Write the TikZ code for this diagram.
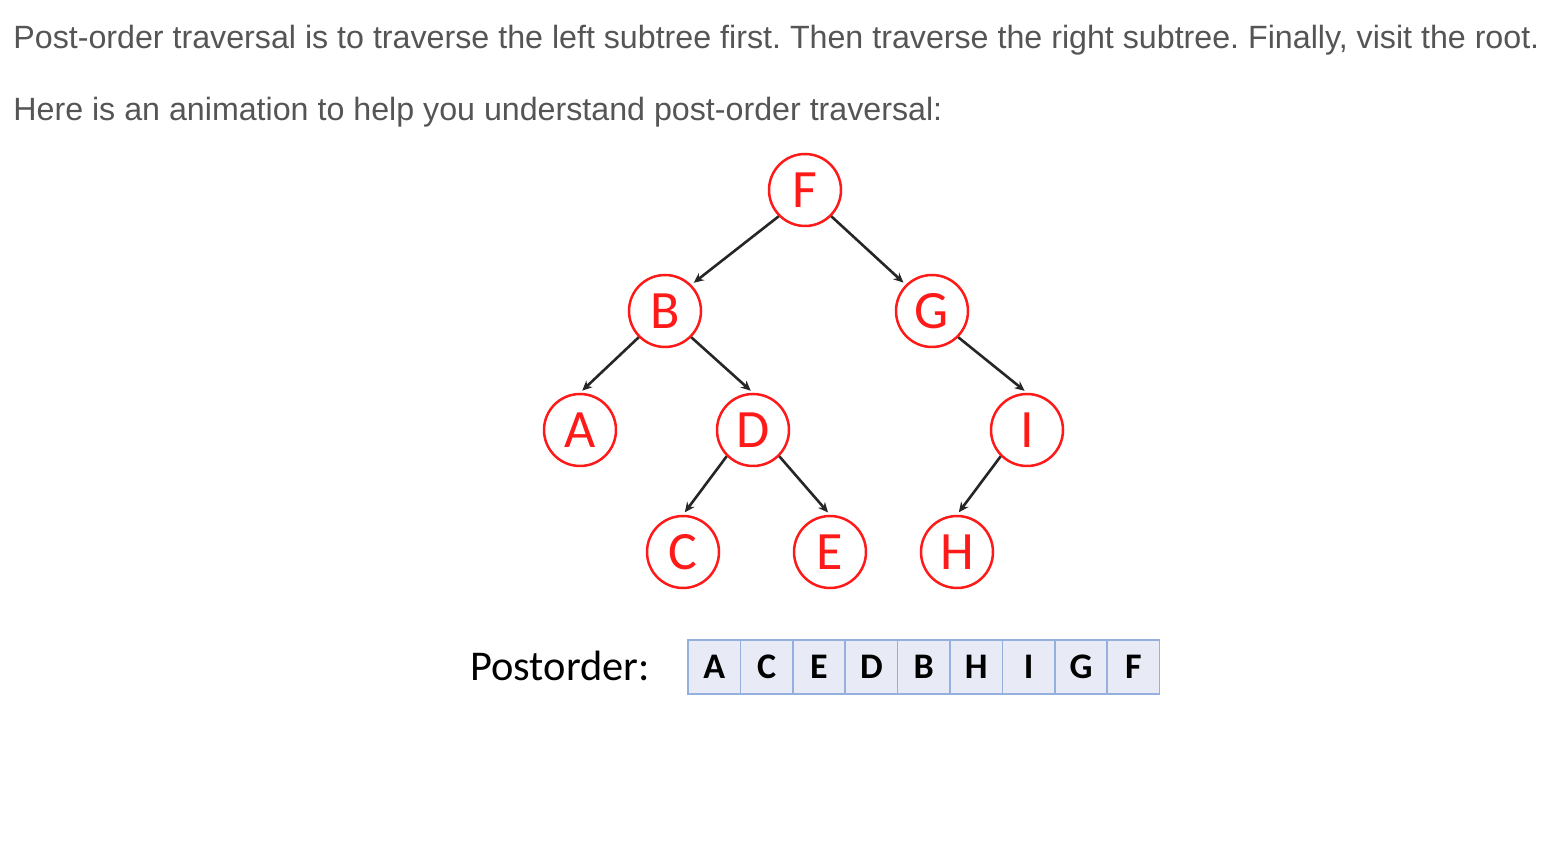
\documentclass[tikz,border=0pt]{standalone}
\usepackage{fontspec}
\setmainfont{Liberation Sans}
\newfontfamily\calib{Carlito}
\usetikzlibrary{arrows.meta}
\definecolor{bodygray}{HTML}{555555}
\definecolor{nodered}{HTML}{FF1A1A}
\definecolor{cellfill}{HTML}{E8EBF5}
\definecolor{cellline}{HTML}{95B0DE}
\tikzset{
  tnode/.style={circle, draw=nodered, line width=1.25pt, fill=white, minimum size=36pt, inner sep=0pt, text=nodered, font=\calib\fontsize{27}{27}\selectfont},
  edge/.style={draw=black!85, line width=1.3pt, shorten >=1.5pt, -{Stealth[length=5pt,width=4.5pt]}},
  cell/.style={rectangle, draw=cellline, line width=0.8pt, fill=cellfill, minimum width=26.2pt, minimum height=27pt, inner sep=0pt, font=\calib\bfseries\fontsize{18}{18}\selectfont},
  bodytext/.style={anchor=base west, inner sep=0pt, text=bodygray, font=\fontsize{16.1}{18}\selectfont}
}
\frenchspacing
\begin{document}
\begin{tikzpicture}[x=0.5pt,y=-0.5pt]
\useasboundingbox[fill=white] (0,0) rectangle (1558,860);
\node[bodytext] (l1) at (13,49) {Post-order traversal is to traverse the left subtree first. Then traverse the right subtree. Finally, visit the root.};
\node[bodytext] (l2) at (13,121) {Here is an animation to help you understand post-order traversal:};

\node[tnode] (F) at (805,190) {F};
\node[tnode] (B) at (665,311) {B};
\node[tnode] (G) at (932,311) {G};
\node[tnode] (A) at (580,430) {A};
\node[tnode] (D) at (753,430) {D};
\node[tnode] (I) at (1027,430) {I};
\node[tnode] (C) at (683,552) {C};
\node[tnode] (E) at (830,552) {E};
\node[tnode] (H) at (957,552) {H};

\draw[edge] (F.south west) -- (B.north east);
\draw[edge] (F.south east) -- (G.north west);
\draw[edge] (B.south west) -- (A.north);
\draw[edge] (B.south east) -- (D.north);
\draw[edge] (G.south east) -- (I.north);
\draw[edge] (D.south west) -- (C.north);
\draw[edge] (D.south east) -- (E.north);
\draw[edge] (I.south west) -- (H.north);

\node[anchor=base west, inner sep=0pt, font=\calib\fontsize{21.2}{22}\selectfont] (post) at (470,680) {Postorder:};
\foreach \l [count=\i from 0] in {A,C,E,D,B,H,I,G,F} {
  \node[cell] (c\i) at (714.2+52.4*\i,667) {\l};
}
\end{tikzpicture}
\end{document}
